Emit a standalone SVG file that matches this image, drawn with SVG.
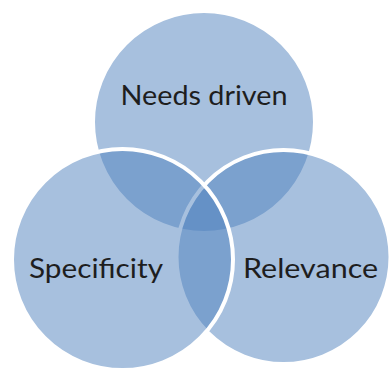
<svg xmlns="http://www.w3.org/2000/svg" width="392" height="370" viewBox="0 0 392 370">
  <style>
    .set { fill: #4F81BD; fill-opacity: 0.5; stroke: #FFFFFF; stroke-width: 4; }
    .label { font-family: Lato, "Open Sans", "Liberation Sans", sans-serif; font-size: 26px; fill: #1E1E1E; text-anchor: middle; }
  </style>
  <rect width="392" height="370" fill="#FFFFFF"/>
  <!-- three overlapping sets, drawn back to front -->
  <g id="needs-driven">
    <circle class="set" cx="204" cy="122" r="111"/>
    <text class="label" x="204" y="105" textLength="167" lengthAdjust="spacingAndGlyphs">Needs driven</text>
  </g>
  <g id="relevance">
    <circle class="set" cx="283.5" cy="257" r="107"/>
    <text class="label" x="310.5" y="278" textLength="135" lengthAdjust="spacingAndGlyphs">Relevance</text>
  </g>
  <g id="specificity">
    <circle class="set" cx="122.5" cy="259.5" r="110.5"/>
    <text class="label" x="96" y="278" textLength="134" lengthAdjust="spacingAndGlyphs">Specificity</text>
  </g>
</svg>
